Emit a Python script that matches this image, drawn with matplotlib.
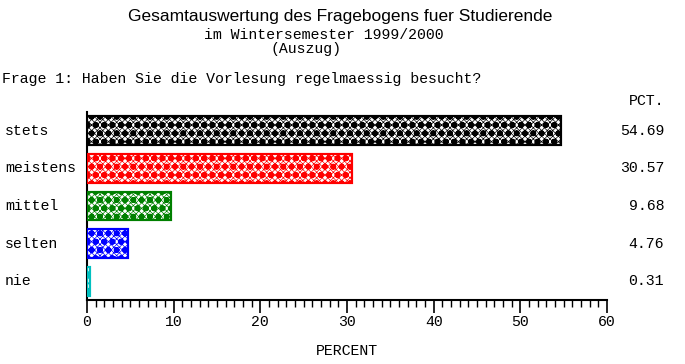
import matplotlib
matplotlib.use("Agg")
import matplotlib.pyplot as plt
from matplotlib.ticker import MultipleLocator

categories = ["stets", "meistens", "mittel", "selten", "nie"]
values = [54.69, 30.57, 9.68, 4.76, 0.31]
value_labels = ["54.69", "30.57", "9.68", "4.76", "0.31"]
colors = ["#000000", "#ff0000", "#008000", "#0000ff", "#00c0c0"]
xticks = [0, 10, 20, 30, 40, 50, 60]

W, H = 685, 364
fig = plt.figure(figsize=(W / 100, H / 100), dpi=100)
mono = "Liberation Mono"
fs = 10.7

def fx(px):
    return px / W

def fy(py):
    return 1 - py / H

ax = fig.add_axes([fx(87), fy(300), fx(607) - fx(87), fy(112) - fy(300)])

for i, (v, c) in enumerate(zip(values, colors)):
    plt.rcParams['hatch.linewidth'] = 0.5
    ax.barh(i, v, height=0.77, facecolor="white", edgecolor=c,
            linewidth=1.5, hatch="xxxxxx", zorder=2)
    plt.rcParams['hatch.linewidth'] = 1.8
    ax.barh(i, v, height=0.77, facecolor="none", edgecolor=c,
            linewidth=1.5, hatch="oo", zorder=3)

ax.set_xlim(0, 60)
ax.set_ylim(4.5, -0.5)
ax.spines["top"].set_visible(False)
ax.spines["right"].set_visible(False)
ax.spines["left"].set_linewidth(1.5)
ax.spines["bottom"].set_linewidth(1.5)
ax.set_yticks([])
ax.set_xticks(xticks)
ax.xaxis.set_minor_locator(MultipleLocator(1))
ax.tick_params(axis="x", which="major", length=9, width=1.2, direction="out",
               labelsize=fs, pad=2)
ax.tick_params(axis="x", which="minor", length=5, width=1.0, direction="out")
ax.set_xticklabels([str(t) for t in xticks], fontfamily=mono, fontsize=fs)

# category labels and values
for i, cat in enumerate(categories):
    yc = ax.transData.transform((0, i))[1] / (fig.dpi * fig.get_figheight())
    fig.text(fx(5), yc, cat, fontfamily=mono, fontsize=fs, ha="left", va="center")
    fig.text(fx(664), yc, value_labels[i], fontfamily=mono, fontsize=fs,
             ha="right", va="center")

fig.text(fx(664), fy(101), "PCT.", fontfamily=mono, fontsize=fs,
         ha="right", va="center")
fig.text(fx(347), fy(351), "PERCENT", fontfamily=mono, fontsize=fs,
         ha="center", va="center")

fig.text(fx(340), fy(17), "Gesamtauswertung des Fragebogens fuer Studierende",
         fontfamily="Liberation Sans", fontsize=12.5, ha="center", va="center")
fig.text(fx(324), fy(35), "im Wintersemester 1999/2000", fontfamily=mono,
         fontsize=fs, ha="center", va="center")
fig.text(fx(306), fy(49), "(Auszug)", fontfamily=mono, fontsize=fs,
         ha="center", va="center")
fig.text(fx(2), fy(79), "Frage 1: Haben Sie die Vorlesung regelmaessig besucht?",
         fontfamily=mono, fontsize=fs, ha="left", va="center")

fig.savefig("out.png", dpi=100)
